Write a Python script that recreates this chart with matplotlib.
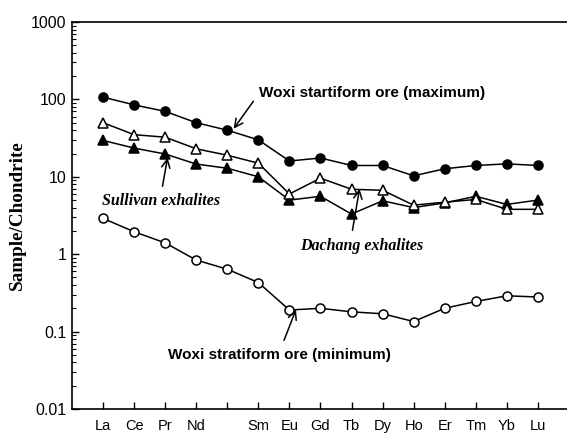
import numpy as np
import matplotlib
matplotlib.use("Agg")
import matplotlib.pyplot as plt
from matplotlib.ticker import FixedLocator, FixedFormatter, LogLocator, NullFormatter

# REE labels (Pm has a tick but no label)
elements = ["La", "Ce", "Pr", "Nd", "", "Sm", "Eu", "Gd", "Tb", "Dy", "Ho", "Er", "Tm", "Yb", "Lu"]

woxi_max = [107, 85, 70, 50, 40, 30, 16, 17.5, 14, 14, 10.3, 12.7, 14, 14.7, 14]
dachang = [50, 35, 32.5, 23, 19, 15, 6.0, 9.6, 6.9, 6.7, 4.3, 4.7, 5.1, 3.8, 3.8]
sullivan = [29.5, 23.5, 19.7, 14.6, 12.9, 10, 5.0, 5.6, 3.3, 4.9, 4.0, 4.6, 5.6, 4.4, 5.0]
woxi_min = [2.9, 1.95, 1.4, 0.84, 0.64, 0.43, 0.19, 0.20, 0.18, 0.17, 0.135, 0.20, 0.245, 0.29, 0.28]

ytick_vals = [0.01, 0.1, 1, 10, 100, 1000]
ytick_text = ["0.01", "0.1", "1", "10", "100", "1000"]

x = np.arange(len(elements))

fig = plt.figure(figsize=(5.67, 4.33), dpi=100)
ax = fig.add_axes([72 / 567, 1 - 409 / 433, 528 / 567, 387 / 433])

kw = dict(color="black", lw=1.1, markersize=6.5, markeredgewidth=1.1, clip_on=False)
ax.plot(x, woxi_max, marker="o", mfc="black", **kw)
ax.plot(x, sullivan, marker="^", mfc="black", **kw)
ax.plot(x, dachang, marker="^", mfc="white", **kw)
ax.plot(x, woxi_min, marker="o", mfc="white", **kw)

ax.set_yscale("log")
ax.set_ylim(0.01, 1000)
ax.set_xlim(-1, 16)
ax.yaxis.set_major_locator(FixedLocator(ytick_vals))
ax.yaxis.set_major_formatter(FixedFormatter(ytick_text))
ax.yaxis.set_minor_locator(LogLocator(base=10, subs=np.arange(2, 10)))
ax.yaxis.set_minor_formatter(NullFormatter())
ax.set_xticks(x)
ax.set_xticklabels(elements)

ax.tick_params(axis="both", which="both", direction="in")
ax.tick_params(axis="y", which="major", length=5, width=1, labelsize=11.5, pad=4)
ax.tick_params(axis="y", which="minor", length=3, width=0.8)
ax.tick_params(axis="x", which="major", length=5, width=1, labelsize=10.5, pad=7)
for lab in ax.get_xticklabels() + ax.get_yticklabels():
    lab.set_fontfamily("Liberation Sans")
for s in ["top", "bottom", "left"]:
    ax.spines[s].set_linewidth(1.2)
ax.spines["right"].set_visible(False)

ax.set_ylabel("Sample/Chondrite", family="Liberation Serif", fontweight="bold",
              fontsize=13.8)
ax.yaxis.set_label_coords((25.5 - 72) / 528, 0.5)

ap = dict(arrowstyle="->", color="black", lw=1.1, mutation_scale=15)
sans = dict(family="Liberation Sans", fontweight="bold", fontsize=11)
serif = dict(family="Liberation Serif", fontweight="bold", style="italic", fontsize=11.5)

# pixel -> axes fraction
def af(px, py):
    return ((px - 72) / 528, (409 - py) / 387)

ax.annotate("", xy=af(232, 131), xytext=af(255, 99), xycoords="axes fraction",
            textcoords="axes fraction", arrowprops=ap)
ax.text(*af(259, 93), "Woxi startiform ore (maximum)", transform=ax.transAxes,
        va="center", ha="left", **sans)

ax.annotate("", xy=af(168, 155), xytext=af(162, 189), xycoords="axes fraction",
            textcoords="axes fraction", arrowprops=ap)
ax.text(*af(102, 201), "Sullivan exhalites", transform=ax.transAxes,
        va="center", ha="left", **serif)

ax.annotate("", xy=af(360, 186), xytext=af(352, 233), xycoords="axes fraction",
            textcoords="axes fraction", arrowprops=ap)
ax.text(*af(300, 246), "Dachang exhalites", transform=ax.transAxes,
        va="center", ha="left", **serif)

ax.annotate("", xy=af(297, 307), xytext=af(283, 343), xycoords="axes fraction",
            textcoords="axes fraction", arrowprops=ap)
ax.text(*af(168, 355), "Woxi stratiform ore (minimum)", transform=ax.transAxes,
        va="center", ha="left", **sans)

fig.savefig("out.png", dpi=100)
